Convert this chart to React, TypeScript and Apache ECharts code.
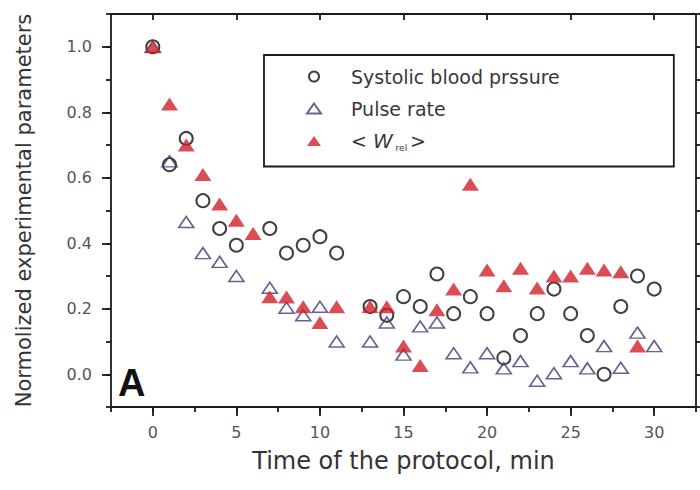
import React, { useEffect, useRef } from "react";
import * as echarts from "echarts";

// Time of the protocol (min) and normalized values
const sysTimes = [0, 1, 2, 3, 4, 5, 7, 8, 9, 10, 11, 13, 14, 15, 16, 17, 18, 19, 20, 21, 22, 23, 24, 25, 26, 27, 28, 29, 30];
const sysValues = [1.0, 0.64, 0.72, 0.53, 0.445, 0.394, 0.445, 0.37, 0.394, 0.42, 0.37, 0.207, 0.18, 0.237, 0.207, 0.306, 0.185, 0.237, 0.185, 0.05, 0.118, 0.185, 0.26, 0.185, 0.118, 0.0, 0.207, 0.3, 0.26];

const pulseTimes = [0, 1, 2, 3, 4, 5, 7, 8, 9, 10, 11, 13, 14, 15, 16, 17, 18, 19, 20, 21, 22, 23, 24, 25, 26, 27, 28, 29, 30];
const pulseValues = [1.0, 0.65, 0.465, 0.37, 0.343, 0.3, 0.264, 0.203, 0.18, 0.206, 0.1, 0.1, 0.158, 0.06, 0.146, 0.158, 0.064, 0.021, 0.064, 0.018, 0.04, -0.02, 0.003, 0.04, 0.018, 0.086, 0.02, 0.127, 0.086];

const wTimes = [0, 1, 2, 3, 4, 5, 6, 7, 8, 9, 10, 11, 13, 14, 15, 16, 17, 18, 19, 20, 21, 22, 23, 24, 25, 26, 27, 28, 29];
const wValues = [1.0, 0.825, 0.7, 0.61, 0.52, 0.47, 0.43, 0.237, 0.236, 0.206, 0.158, 0.206, 0.207, 0.206, 0.086, 0.027, 0.197, 0.26, 0.58, 0.318, 0.27, 0.324, 0.263, 0.3, 0.3, 0.324, 0.318, 0.313, 0.086];

const xMajorTicks = [0, 5, 10, 15, 20, 25, 30];
const yMajorTicks = [0, 0.2, 0.4, 0.6, 0.8, 1.0];

const SYS_NAME = "Systolic blood prssure";
const PULSE_NAME = "Pulse rate";
const W_NAME = "<Wrel>";

const pair = (ts: number[], vs: number[]) => ts.map((t, i) => [t, vs[i]]);

export default function App() {
  const ref = useRef<HTMLDivElement>(null);
  useEffect(() => {
    const chart = echarts.init(ref.current!, null, { renderer: "svg" });
    const font = "DejaVu Sans";
    const lineStyle = { color: "#1a1a1a", width: 1.8 };

    const xBase = {
      type: "value",
      gridIndex: 0,
      min: -2.5,
      max: 32.5,
      interval: 2.5,
      splitLine: { show: false },
    };
    const yBase = {
      type: "value",
      gridIndex: 0,
      min: -0.1,
      max: 1.1,
      interval: 0.1,
      splitLine: { show: false },
    };

    chart.setOption({
      animation: false,
      backgroundColor: "#fff",
      grid: { left: 111, right: 4, top: 14, bottom: 83 },
      xAxis: [
        {
          ...xBase,
          position: "bottom",
          name: "Time of the protocol, min",
          nameLocation: "middle",
          nameGap: 42,
          nameTextStyle: { fontFamily: font, fontSize: 24, color: "#333" },
          axisLine: { show: true, onZero: false, lineStyle },
          axisTick: { show: true, inside: false, length: 9, lineStyle, customValues: xMajorTicks },
          axisLabel: {
            show: true,
            margin: 17,
            fontFamily: font,
            fontSize: 16,
            color: "#555",
            customValues: xMajorTicks,
            formatter: (v: number) => (Math.abs(v % 5) < 1e-9 ? String(Math.round(v)) : ""),
          },
        },
        {
          ...xBase,
          position: "bottom",
          axisLine: { show: false, onZero: false },
          axisTick: { show: true, inside: false, length: 5, lineStyle },
          axisLabel: { show: false },
        },
        {
          ...xBase,
          position: "top",
          axisLine: { show: true, onZero: false, lineStyle },
          axisTick: { show: true, inside: true, length: 6, lineStyle, customValues: xMajorTicks },
          axisLabel: { show: false },
        },
      ],
      yAxis: [
        {
          ...yBase,
          position: "left",
          name: "Normolized experimental parameters",
          nameLocation: "middle",
          nameGap: 77,
          nameTextStyle: { fontFamily: font, fontSize: 21, color: "#333" },
          axisLine: { show: true, onZero: false, lineStyle },
          axisTick: { show: true, inside: false, length: 9, lineStyle, customValues: yMajorTicks },
          axisLabel: {
            show: true,
            margin: 19,
            fontFamily: font,
            fontSize: 16,
            color: "#555",
            customValues: yMajorTicks,
            formatter: (v: number) => {
              const k = Math.round(v * 10);
              if (k % 2 !== 0 || k < 0 || k > 10) return "";
              return (k / 10).toFixed(1);
            },
          },
        },
        {
          ...yBase,
          position: "left",
          axisLine: { show: false, onZero: false },
          axisTick: { show: true, inside: false, length: 5, lineStyle },
          axisLabel: { show: false },
        },
        {
          ...yBase,
          position: "right",
          axisLine: { show: true, onZero: false, lineStyle },
          axisTick: { show: true, inside: false, length: 5, lineStyle },
          axisLabel: { show: false },
        },
      ],
      legend: {
        orient: "vertical",
        left: 264,
        top: 55,
        padding: [12, 114, 14, 42],
        itemWidth: 14,
        itemHeight: 10,
        itemGap: 13,
        borderColor: "#1a1a1a",
        borderWidth: 1.8,
        data: [SYS_NAME, PULSE_NAME, W_NAME],
        formatter: (name: string) => (name === W_NAME ? "{a|< }{w|W}{s| rel }{a|>}" : name),
        textStyle: {
          fontFamily: font,
          fontSize: 19,
          color: "#383838",
          padding: [0, 0, 0, 25],
          rich: {
            a: { fontFamily: font, fontSize: 19, color: "#383838" },
            w: { fontFamily: font, fontSize: 20, fontStyle: "italic", color: "#383838" },
            s: { fontFamily: font, fontSize: 9, color: "#383838", padding: [14, 0, 0, 0] },
          },
        },
      },
      graphic: [
        {
          type: "text",
          left: 118,
          top: 364,
          z: 10,
          style: { text: "A", fontFamily: "Liberation Sans", fontWeight: "bold", fontSize: 38, fill: "#111" },
        },
      ],
      series: [
        {
          type: "scatter",
          name: SYS_NAME,
          xAxisIndex: 0,
          yAxisIndex: 0,
          data: pair(sysTimes, sysValues),
          symbol: "circle",
          symbolSize: 13,
          itemStyle: { color: "rgba(0,0,0,0)", borderColor: "#111", borderWidth: 2 },
          z: 2,
        },
        {
          type: "scatter",
          name: PULSE_NAME,
          xAxisIndex: 0,
          yAxisIndex: 0,
          data: pair(pulseTimes, pulseValues),
          symbol: "triangle",
          symbolSize: [15, 11],
          itemStyle: { color: "rgba(0,0,0,0)", borderColor: "#3c3c78", borderWidth: 1.6 },
          z: 3,
        },
        {
          type: "scatter",
          name: W_NAME,
          xAxisIndex: 0,
          yAxisIndex: 0,
          data: pair(wTimes, wValues),
          symbol: "triangle",
          symbolSize: [17, 13],
          itemStyle: { color: "#d2202a" },
          z: 4,
        },
      ],
    });
    return () => chart.dispose();
  }, []);
  return <div ref={ref} style={{ position: "absolute", left: 0, top: 0, width: 700, height: 490 }} />;
}
